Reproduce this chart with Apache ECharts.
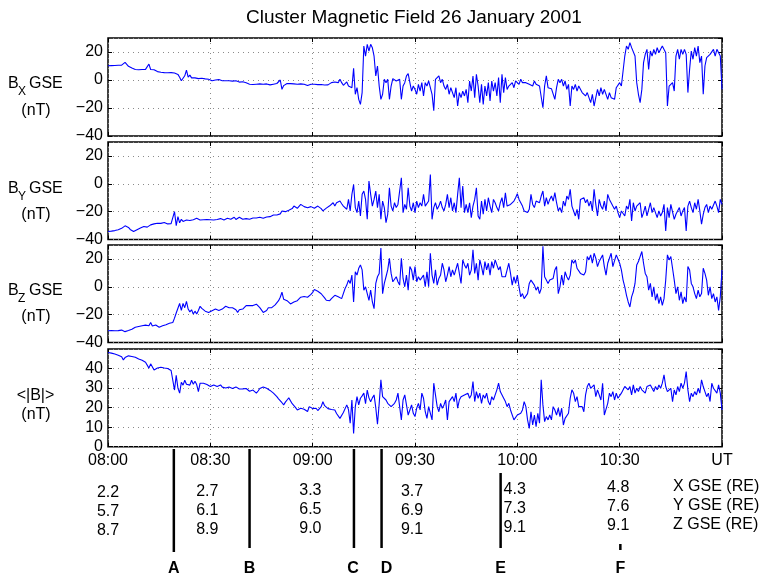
<!DOCTYPE html>
<html><head><meta charset="utf-8">
<script src="https://cdn.jsdelivr.net/npm/echarts@6/dist/echarts.min.js"></script>
<style>html,body{margin:0;padding:0;background:#fff}#c{width:761px;height:577px}</style>
</head><body><div id="c"></div>
<script>
// ---- DATA ----
const titleText = 'Cluster Magnetic Field 26 January 2001';
const stepMinutes = 0.5; // samples every half minute from 08:00

const bx = [
10.2,10.2,10.3,10.2,10.4,10.3,10.5,10.4,10.6,11,12.6,11.5,9.8,9.5,8.5,7.2,7.5,7.8,7.3,7.6,
7.5,7.2,7.6,7.4,11.4,7.5,7.6,7.3,7.2,6,5.2,5.5,5,5.3,5.1,5.2,5,5.3,4.8,5,
4.5,4,2,-0.5,-1,3,7.1,2,3.5,1.5,2.5,1.5,2.5,1,2,1.2,0.5,0.8,0,0.5,
0,-0.5,0.5,0,-0.5,0.3,1.5,-0.5,-1,-0.5,-1.2,-0.5,-1,-0.8,-1.5,-0.5,-1,-1.5,-0.5,-1.2,
-1.5,-2,-2.5,-3,-3.5,-3.2,-3.8,-3,-3.6,-2.8,-3.5,-3,-3.6,-2.8,-3.2,-3.5,-2.5,-3,-2,-2.5,
-2.5,0,-6.7,-4,-3,-2.5,-3,-2.6,-3.2,-2.8,-2.5,-3,-3.4,-2.8,-3.5,-3,-3.6,-4,-3.5,-3,
-3.5,-3,-4,-3.3,-3.8,-3.2,-3.5,-3.6,-3.2,-3.5,-2.8,
-1.9,-2.6,-1.4,-0.7,-1.9,0.5,-1.9,-3.8,-2.6,-1.4,
-4.3,-4.3,-5.5,8.3,-10.2,-5.5,-13.8,-17.4,-9,24.3,
17,25.5,20.7,25.5,23,17,2.9,10,-4.3,
-13.8,-10.2,0.5,-1.9,0.5,-13.8,-4.3,1,0.5,-0.7,
0.5,0.5,-13.8,-4.3,-1.9,2.9,4.5,-1.9,-7.9,-4.3,
-6.7,-10.2,-3.1,-7.9,-1.9,-11.4,-1.9,-4.3,-0.7,
-1.9,-10.2,-22,0.5,1.7,2.9,-1.9,0.5,-4.3,-6.7,
-3.1,-10.2,-5.5,-4.3,-12.6,-5.5,-18.6,-9,-12.6,-7.9,
-11.4,-6.7,-16.2,-0.7,-7.9,2.9,-12.6,4,-4.3,
-16.2,-3.1,-17.4,-4.3,-11.4,-1.9,-15,-0.7,-7.9,-1.9,
-11.4,1.7,-16.2,4,-9,1.7,-6.7,-4.3,-3.1,-1.9,
-5.5,-0.7,-1.9,-3.1,0.5,-1.9,-0.7,
-1.9,-0.7,-3.1,-1.9,-4.3,-0.7,-3.1,-1.9,-4.3,-4.3,
-19.8,-4.3,2.9,-5.5,-6.7,-6.2,-6.7,-13.8,-5.5,0.5,
-1.9,0.5,-4.3,-0.7,-6.7,-3.1,-18.6,-4.3,-6.7,-3.1,
-7.9,-4.3,
-5.5,-9,-7.9,-11.4,-9,-12.6,-16.2,-10.2,-18.6,-12.6,
-6.7,-11.4,-5.5,-10.2,-6.7,-7.9,-13.8,-9,-12.6,-11.4,
-13.8,-5.5,-4.3,
-1.9,-4.3,6.4,17.1,24.3,21.9,26.7,23.1,24.3,17.1,
-1.9,-10.2,-16.2,-6.7,12.4,18.3,21.9,7.6,20.7,17.1,
21.9,18.3,23.1,19.5,21.9,24.3,23.1,19.5,-18.6,-4.3,
-3.1,
-1.9,-7.9,17.1,21.9,14.8,21.9,18.3,21.9,18.3,-9,
7.6,20.7,14.8,23.1,17.1,24.3,12.4,17.1,-10.2,10,
16,14.8,18.3,19.5,21.9,17.1,21.9,23.1,17.1,-6.7
];

const by = [
-34.3,-34.3,-34,-33.8,-33.6,-33.3,-33,-32.6,-32,-30.8,
-30.2,-30.6,-31.3,-32.8,-33.5,-34.3,-33.8,-33,-32,-31.8,
-31.2,-30.7,-31.2,-31.1,-30.5,-29.5,-29,-28.8,-28.6,-28.3,
-28.3,-28.4,-28,-27.8,-28.5,-28.8,-28.2,-28.6,-28.3,-20,
-30,-23.6,-28,-25.5,-27,-26.8,-26,-27.2,-26.4,-26.9,
-25.8,-26.2,-24.8,-25.6,-26,-25.4,-25.8,-25.2,-25.6,-25.4,
-25.8,-26.2,-26,-25.4,-25.6,-25,-25,-26,-26,-25.2,
-24.8,-25.6,-25.5,-24.5,-24,-25.6,-25,-24,-24.2,-25.5,
-26,-25,-25,-25.5,-25.2,-24.6,-24,-24.6,-24.5,-24,
-23.8,-24.8,-25,-23.8,-23.5,-23.6,-23.2,-22.4,-23,-22.4,
-22.6,-21.6,-19.5,-18.3,-20,-20,-19,-18.8,-17.8,-16,
-17,-17.6,-16.5,-14.8,-15.5,-16.4,-17.2,-17.2,-16.5,-16.4,
-17.2,-17.6,-16.5,-16,-16.5,-17.8,-19.5,-19.8,-17.5,-16.5,
-15.8,
-14.8,-13.6,-16,-13.6,-13.6,-12.4,-14.3,-16,-17.1,-18.3,
-11.2,-19.5,-7.6,-0.5,-17.1,-20.7,-12.4,-23.1,-7.6,-5.2,
-11.2,-25.5,1.9,-7.6,-16,-11.2,-5.2,-17.1,-7.6,
-25.5,-12.4,-17.1,-27.9,-21.9,-2.9,-16,-19.5,-13.6,-17.1,
-14.8,-16,4.3,-20.7,-14.8,-18.3,-2.9,-16,-19.5,-13.6,
-20.7,-12.4,-17.1,-13.6,-16,-7.6,-16,-17.1,-12.4,
6.7,-25.5,-17.1,-13.6,-18.3,-16,-12.4,-17.1,-19.5,-14.8,
-7.6,-17.1,-10,-19.5,-13.6,-20.7,-7.6,4.3,-17.1,-1.7,
-20.7,-14.8,-20.7,-13.6,-24.3,-16,-11.2,-2.9,-23.1,
-25.5,-12.4,-21.9,-11.2,-19.5,-10,-16,-20.7,-11.2,-13.6,
-17.1,-19.5,-13.6,-10,-17.1,-6.4,-16,-17.1,-14.8,-14.8,
-12.4,-10,-7.1,-11.2,-13.6,-16,-19.5,
-18.3,-20.7,-18.3,-7.6,-14.8,-17.1,-12.4,-11.2,-13.6,-8.8,
-5.2,-16,-10,-14.8,-11.2,-8.8,-12.4,-6.4,-13.6,-19.5,
-17.1,-20.7,-12.4,-16,-8.8,-11.2,-4,-16,-17.1,-23.1,
-18.3,-25.5,
-11.2,-12.4,-10,-13.6,-11.2,-16,-12.4,-19.5,-4,-14.8,
-23.1,-11.2,-16,-18.3,-12.4,-19.5,-7.6,-11.2,-10,-16,
-18.3,-16,-20.7,
-24.3,-19.5,-20.7,-23.1,-16,-18.3,-11.2,-26.7,-13.6,-19.5,
-16,-17.1,-13.6,-24.3,-20.7,-16,-23.1,-18.3,-13.6,-20.7,
-17.1,-18.3,-24.3,-19.5,-23.1,-20.7,-14.8,-33.8,-17.1,-24.3,
-14.8,
-16,-25.5,-21.9,-20.7,-17.1,-23.1,-19.5,-17.1,-33.8,-16,
-12.4,-17.1,-20.7,-13.6,-18.3,-11.2,-19.5,-29,-21.9,-17.1,
-14.8,-20.7,-16,-18.3,-19.5,-12.4,-16,-20.7,-11.2,-14.8
];

const bz = [
-31.6,-31.6,-31.5,-31.6,-31.6,-31.3,-31.5,-31.2,-31.1,-31.6,
-32.2,-32.9,-31.4,-31,-30.5,-30.2,-29,-28.8,-28.5,-28.2,
-28,-27.8,-27.5,-28,-28,-25.6,-28.2,-27.8,-27.5,-28.5,
-29,-28.4,-28,-27.6,-27.2,-26.6,-26.2,-25.8,-25.6,-22.5,
-18.8,-18,-12,-17,-12,-15,-10.5,-16,-18,-16.5,
-19.6,-17.5,-19.5,-17,-14,-15.5,-16.5,-17.5,-17,-18.4,
-17.8,-17.2,-17,-16,-16.5,-17,-17.4,-16,-15,-14,
-13.5,-15,-16,-15,-14.5,-16.5,-18.4,-16.5,-15.5,-16,
-15.5,-13.5,-12.3,-13.5,-13.8,-13.5,-13.5,-12.5,-12.5,-15,
-16,-18.4,-17.5,-17,-15,-14.5,-15,-14,-13,-12,
-10,-7.5,-3.9,-9,-9.5,-10,-11,-12.3,-11.5,-11,
-10.5,-10,-9,-7.5,-7,-7,-7.2,-7.5,-6.5,-5.5,
-4,-2,-1.4,-3.2,-4,-5,-6.3,-8,-9.7,-11,
-10,
-8.5,-7.2,-6.1,-4.9,-7.2,-6.1,-8.5,-7.2,-1.2,1.2,
4.8,2.4,8.4,-10.9,10.8,8.4,13.3,15.7,12.1,-2.4,
0,-4.9,-9.7,-2.4,-10.9,-15.7,2.4,7.2,9.6,
27.8,-4.9,2.4,7.2,12.1,20.5,9.6,3.6,4.8,7.2,
3.6,1.2,20.5,6,0,8.4,-2.4,14.5,12.1,4.8,
14.5,3.6,7.2,4.8,6,8.4,0,10.8,0,
24.1,8.4,2.4,12.1,1.2,6,8.4,16.9,12.1,3.6,
8.4,14.5,7.2,12.1,8.4,7.2,16.9,9.6,2.4,19.3,
15.7,13.3,16.9,8.4,12.1,26.5,9.6,16.9,4.8,
19.3,14.5,8.4,18.1,12.1,16.9,8.4,18.1,13.3,19.3,
20.5,12.1,14.5,7.2,8.4,7.2,12.1,16.9,9.6,1.2,
7.2,2.4,8.4,0,-7.2,-4.9,-8.5,
-8.5,-4.9,2.4,4.8,6,1.2,-2.4,0,-4.9,-1.2,
29,7.2,4.8,2.4,4.8,3.6,6,12.1,14.5,-4.9,
0,8.4,1.2,10.8,7.2,4.8,8.4,19.3,16.9,19.3,
13.3,12.1,
9.6,10.8,8.4,10.8,21.7,19.3,22.9,16.9,24.1,20.5,
14.5,18.1,20.5,22.9,14.5,8.4,16.9,18.1,24.1,14.5,
15.7,22.9,24.1,
16.9,12.1,4.8,0,-6.1,-10.9,-14.5,-7.2,-3.6,2.4,
15.7,18.1,19.3,25.3,16.9,9.6,7.2,-2.4,2.4,-7.2,
0,-9.7,-4.9,-12.1,-7.2,-13.3,-8.5,4.8,22.9,19.3,
21.7,
13.3,4.8,-4.9,0,-9.7,-3.6,-12.1,-7.2,-10.9,14.5,
12.1,2.4,0,-4.9,-8.5,-2.4,-7.2,-4.9,13.3,9.6,
4.8,-6.1,0,-8.5,-4.9,-10.9,-7.2,-16.9,-7.2,12.1
];

const bmag = [
48.2,48,47.9,47.6,47.4,47.1,46.8,46.6,46,44.4,
45.6,46,46.5,46.4,46.2,46.2,45.8,45.3,44.9,44.4,
44.2,44,43.2,42.7,40.2,42.4,41.9,39.3,40.2,40.3,
40.5,40.7,40.2,40.3,40.2,40,39.5,39,38.5,29,
36.5,30,27.4,33,31.5,34,32,33,31.5,34,
32,33.5,31.8,28.2,32.5,32,32.5,31.5,31.8,31.3,
30.8,31.2,31.6,30.8,30.8,31.5,31.6,30.5,30.8,30,
29.8,30.5,30.8,29.8,29.9,30.6,30.8,29.5,29.9,29.6,
29.1,29.8,29.9,28.4,28.2,29,28.7,27.4,28.5,29.8,
30.5,30.6,29.8,29.9,29.1,28.8,28.2,27.4,26.5,25.6,
24.5,23.9,22.5,21.4,22.8,23.9,25,24,22,21.4,
20,18.8,19.5,19.7,18.8,19.2,18.3,18,20.5,21.4,
19.5,18.8,19.7,18.5,18,20.5,23,21,20,19.5,
19.7,19,18.5,18.8,17,16,14.5,15.5,17.5,18,
21.4,19,12,23.9,6.8,20.5,25.6,21.4,24.8,26,
27.4,22,29,25,23,25,26.5,20,11.5,22,
34.2,25.6,24.8,23.9,22.2,21.4,20.5,19.7,22.2,23.9,
27.4,20.5,13.7,23.9,26.5,21.4,16.2,18.8,21.4,17.1,
15.4,19.7,22.2,18.8,27.4,24.8,17.9,14.5,20.5,20.5,
13.7,32.5,26.5,20.5,17.9,22.2,19.7,21.4,23.9,13.7,
23.1,22.2,25.6,23.1,27.4,19.7,23.9,25.6,24.8,26.5,
25.6,27.4,24.8,26.5,33.3,23.1,28.2,24.8,27.4,22.2,
26.5,24.8,27.4,23.1,21.4,25.6,23.9,26.5,29.1,32.5,
28.2,29.1,24.8,23.1,20.5,22.2,18.8,17.9,13.7,
14.5,16.2,15.4,17.1,18.8,23.1,20.5,13.7,9.4,17.9,
11.1,16.2,10.3,17.1,12,34.2,21.4,12.8,15.4,13.7,
16.2,13.7,20.5,18.8,16.2,19.7,15.4,19.7,11.1,14.5,
13.7,17.1,24.8,29.1,27.4,23.1,25.6,20.5,21.4,
20.5,17.9,26.5,30.8,32.5,29.9,29.1,31.6,25.6,29.1,
26.5,23.9,32.5,16.2,15.4,22.2,27.4,25.6,28.2,23.9,
27.4,24.8,23.9,27.4,28.2,30.8,31.6,29.1,30.8,26.5,
31.6,27.4,29.9,28.2,30.8,29.1,29.9,27.4,30.8,
29.9,31.6,29.9,28.2,30.8,29.1,31.6,29.9,32.5,36.8,
30.8,28.2,27.4,29.9,23.1,29.1,26.5,30.8,28.2,32.5,
29.9,32.5,38.5,29.1,23.1,27.4,25.6,28.2,26.5,29.9,
27.4,34.2,30.8,28.2,25.6,27.4,23.1,32.5,29.9,30.8,
27.4,31.6,27.4,18.8
];

const tickMinutes = [0, 30, 60, 90, 120, 150, 180];
const tickLabels = ['08:00', '08:30', '09:00', '09:30', '10:00', '10:30', 'UT'];

const orbitMinutes = [0, 30, 60, 90, 120, 150];
const xGse = [2.2, 2.7, 3.3, 3.7, 4.3, 4.8];
const yGse = [5.7, 6.1, 6.5, 6.9, 7.3, 7.6];
const zGse = [8.7, 8.9, 9.0, 9.1, 9.1, 9.1];
const orbitNames = ['X GSE (RE)', 'Y GSE (RE)', 'Z GSE (RE)'];

const eventMinutes = [19.3, 41.5, 72.1, 80.2, 115.1, 150.2];
const eventLetters = ['A', 'B', 'C', 'D', 'E', 'F'];

const panelLabels = [
  {main: 'B', sub: 'X', rest: 'GSE'},
  {main: 'B', sub: 'Y', rest: 'GSE'},
  {main: 'B', sub: 'Z', rest: 'GSE'},
  {main: '<|B|>', sub: '', rest: ''}
];
const yRanges = [[-40, 30, 20], [-40, 30, 20], [-40, 30, 20], [0, 50, 10]];

// ---- STYLE / LAYOUT ----
const FONT = '"Liberation Sans", Arial, Helvetica, sans-serif';
const grids = [
  {top: 38, height: 98},
  {top: 142, height: 97.5},
  {top: 245, height: 97.5},
  {top: 349, height: 97.7}
];
const labelY = [[84, 111], [189, 215], [291, 316.5], [396, 415]];
const markerTop = [449, 449, 449, 449, 473, 544];
const markerBottom = [552, 548, 548, 548, 548, 550];
const letterDx = [0, 0, -1, 5, 0, 0];
const colDx = [0, -3, -2.3, -3, -2.6, -1.5];
const colDy = [1, 0, -1.5, 0, -2.5, -4];
const rowY = [492, 511, 530];

const seriesValues = [bx, by, bz, bmag];
const gridLine = {color: '#8a8a8a', type: [1, 4], width: 1};

const chart = echarts.init(document.getElementById('c'), null, {renderer: 'canvas'});

const xAxes = [], yAxes = [], series = [];
grids.forEach((g, gi) => {
  ['bottom', 'top'].forEach(pos => {
    xAxes.push({
      type: 'value', gridIndex: gi, position: pos, min: 0, max: 180, interval: 30,
      axisLine: {show: false, onZero: false},
      axisTick: {show: true, inside: true, length: 4, lineStyle: {color: '#000', width: 1}},
      axisLabel: {
        show: pos === 'bottom' && gi === 3, color: '#000', fontSize: 16, fontFamily: FONT, margin: 6,
        showMinLabel: true, showMaxLabel: true,
        formatter: v => { const k = tickMinutes.indexOf(v); return k >= 0 ? tickLabels[k] : ''; }
      },
      splitLine: {show: pos === 'bottom', lineStyle: gridLine}
    });
  });
  const r = yRanges[gi];
  ['left', 'right'].forEach(pos => {
    yAxes.push({
      type: 'value', gridIndex: gi, position: pos, min: r[0], max: r[1], interval: r[2],
      axisLine: {show: false, onZero: false},
      axisTick: {show: true, inside: true, length: 4, lineStyle: {color: '#000', width: 1}},
      axisLabel: {
        show: pos === 'left', color: '#000', fontSize: 16, fontFamily: FONT, margin: 5,
        showMaxLabel: false, showMinLabel: true,
        formatter: v => (v === r[1] ? '' : String(v).replace('-', '\u2212'))
      },
      splitLine: {show: pos === 'left', lineStyle: gridLine}
    });
  });
  series.push({
    type: 'line', xAxisIndex: gi * 2, yAxisIndex: gi * 2, showSymbol: false, symbol: 'none',
    data: seriesValues[gi].map((v, i) => [i * stepMinutes, v]),
    lineStyle: {color: '#0000ff', width: 1.1}, itemStyle: {color: '#0000ff'},
    sampling: null, clip: true, z: 3
  });
});

chart.setOption({
  animation: false,
  backgroundColor: '#fff',
  grid: grids.map(g => ({left: 108, width: 614, top: g.top, height: g.height, show: true,
    borderColor: '#000', borderWidth: 1.5, backgroundColor: 'transparent', containLabel: false})),
  xAxis: xAxes, yAxis: yAxes, series: series
});

// ---- annotations positioned through the time axis of the bottom panel ----
const px = t => chart.convertToPixel({xAxisIndex: 6}, t);
function txt(x, y, s, opt) {
  opt = opt || {};
  return {type: 'text', x: x, y: y, silent: true, z: 100,
    style: {text: s, fill: '#000', fontSize: opt.size || 16, fontFamily: FONT, fontWeight: opt.weight || 'normal',
      textAlign: opt.align || 'center', align: opt.align || 'center',
      textVerticalAlign: 'middle', verticalAlign: 'middle'}};
}
const graphic = [];
graphic.push(txt(414, 18, titleText, {size: 19}));
panelLabels.forEach((p, i) => {
  const [y1, y2] = labelY[i];
  if (p.sub) {
    graphic.push(txt(8, y1, p.main, {align: 'left'}));
    graphic.push(txt(18, y1 + 8, p.sub, {align: 'left', size: 12}));
    graphic.push(txt(29, y1, p.rest, {align: 'left'}));
  } else {
    graphic.push(txt(35.5, y1, p.main));
  }
  graphic.push(txt(36, y2, '(nT)'));
});
orbitMinutes.forEach((t, i) => {
  const x = px(t) + colDx[i];
  [xGse, yGse, zGse].forEach((arr, r) => {
    graphic.push(txt(x, rowY[r] + colDy[i], arr[i].toFixed(1)));
  });
});
orbitNames.forEach((n, r) => graphic.push(txt(673, rowY[r] - 5, n, {align: 'left'})));
eventMinutes.forEach((t, i) => {
  const x = px(t);
  graphic.push({type: 'line', silent: true, z: 100,
    shape: {x1: x, y1: markerTop[i], x2: x, y2: markerBottom[i]},
    style: {stroke: '#000', lineWidth: 2.5}});
  graphic.push(txt(x + letterDx[i], 569, eventLetters[i], {weight: 'bold'}));
});
chart.setOption({graphic: graphic});
</script>
</body></html>
